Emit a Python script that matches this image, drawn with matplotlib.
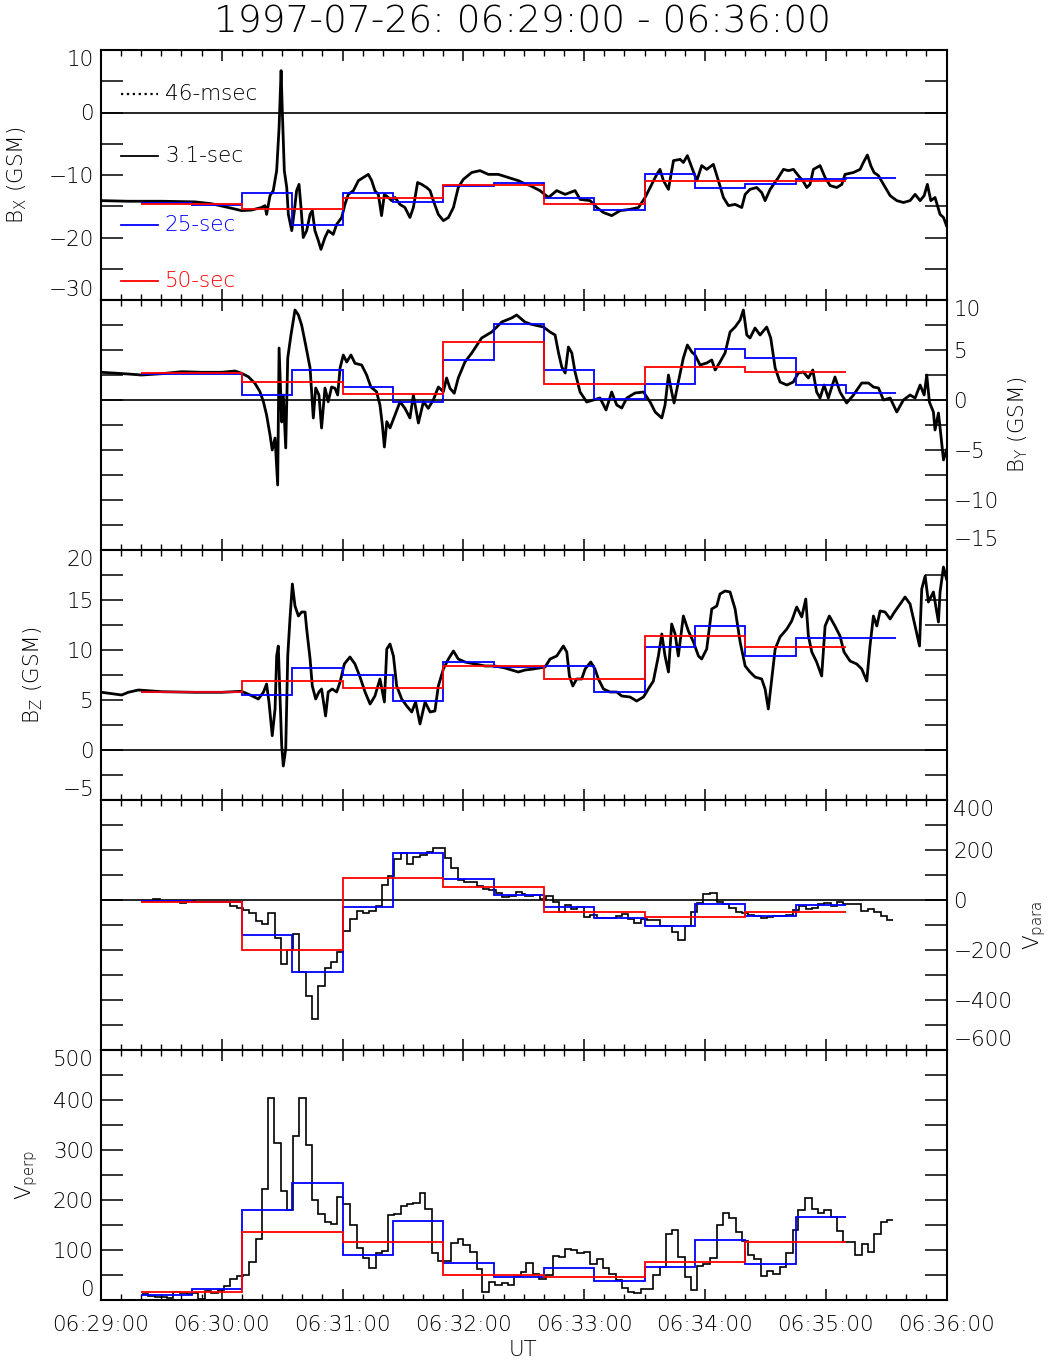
import matplotlib
matplotlib.use('Agg')
import matplotlib.pyplot as plt
from matplotlib.ticker import MultipleLocator, FixedLocator

plt.rcParams['font.family'] = ['DejaVu Sans']
plt.rcParams['font.weight'] = 'light'
plt.rcParams['axes.labelweight'] = 'light'
plt.rcParams['mathtext.fontset'] = 'custom'
plt.rcParams['mathtext.rm'] = 'DejaVu Sans:light'
plt.rcParams['mathtext.it'] = 'DejaVu Sans:light'
plt.rcParams['mathtext.default'] = 'regular'
FS = 15.5

# ---------------- data (time in seconds after 06:29:00) ----------------
title = "1997-07-26: 06:29:00 - 06:36:00"
time_ticks = [0, 60, 120, 180, 240, 300, 360, 420]
time_labels = ["06:29:00", "06:30:00", "06:31:00", "06:32:00",
               "06:33:00", "06:34:00", "06:35:00", "06:36:00"]
legend_labels = ["46-msec", "3.1-sec", "25-sec", "50-sec"]

bx_time = [0.4, 13.6, 30.2, 46.7, 55, 63.3, 69.9, 74.9, 79.8, 81.5, 82.3, 84, 85.6, 87.3, 88.5,
           89.5, 90.1, 91.1, 92.3, 93.1, 94.8, 96.1, 97.2, 98.4, 99.4, 100.5, 102.2, 103.9, 105,
           106.3, 108, 109.3, 111.3, 112.9, 115.4, 117.1, 119.6, 121.2, 122.9, 125.4, 127.9, 130.3,
           132.8, 134.5, 136.1, 137.8, 139.4, 140.8, 142.8, 144.4, 146.1, 148.5, 151, 153.5, 155.2,
           157.3, 159.3, 161.8, 163.5, 165.1, 167.6, 170.1, 172.6, 175.1, 177.5, 180, 184.2, 188.3,
           192.4, 197.4, 202.4, 207.3, 210.6, 213.2, 218.1, 222.3, 226.4, 230.6, 235.5, 238, 243,
           246.3, 249.6, 253.7, 257.9, 262.8, 267, 270.3, 272.8, 276.1, 277.7, 279.4, 281.9, 284.4,
           287.7, 289.3, 291.3, 293.5, 296, 298.4, 300.9, 304.2, 306.7, 309.2, 311.7, 315, 318.3,
           320, 322.4, 325.7, 328.2, 329.9, 332.4, 336.5, 339, 341.5, 344, 346.4, 348.6, 350.6,
           352.2, 353.9, 357.2, 359.7, 362.2, 365.5, 368, 369.6, 373.8, 377.1, 378.7, 380.7, 382.4,
           384, 386.2, 388.7, 392, 395.3, 398.6, 401.9, 404.4, 406.9, 408.9, 410.5, 412.2, 414.3,
           416.8, 418.5, 420]
bx_val = [-14.1, -14.2, -14.2, -14.3, -14.6, -15.2, -15.7, -15.6, -15.2, -14.9, -16.3, -13.3, -12.5,
          -9.3, -2.4, 6.7, 0.3, -9.3, -12, -16.3, -18.9, -15.7, -12.5, -11.5, -15.2, -20, -18.9,
          -16.3, -15.7, -18.9, -20.5, -21.9, -20, -18.9, -19.5, -17.9, -16.8, -14.7, -13.1, -12.5,
          -10.9, -10.4, -9.9, -10.9, -12.5, -13.1, -16.5, -13.1, -13.6, -14.1, -13.6, -14.7, -15.2,
          -16.8, -15.2, -11.2, -11.5, -12, -12.5, -14.1, -16.3, -17.3, -16.8, -15.2, -12, -10.7,
          -9.6, -9.3, -9.9, -9.9, -10.4, -10.9, -11.4, -11.7, -12.5, -13.6, -12.5, -13.1, -12.5,
          -13.9, -14.1, -15.2, -16, -16.5, -15.7, -15.5, -15.2, -13.6, -12, -9.9, -9.1, -10.9,
          -12.3, -7.7, -7.5, -8, -6.9, -8.8, -10.9, -8.5, -9.1, -8.3, -10.9, -13.6, -14.9, -14.7,
          -15.2, -13.1, -12.3, -12, -12.8, -14.1, -12.3, -10.4, -9.1, -9.3, -9.1, -10.1, -10.9,
          -12, -11.5, -9.1, -8.5, -10.4, -11.7, -12, -11.5, -9.9, -9.6, -9.1, -8, -6.8, -8.5,
          -9.6, -10.1, -11.5, -13.3, -14.1, -14.4, -14.1, -13.1, -14.1, -13.3, -11.5, -14.1,
          -13.6, -16.3, -16.8, -18.1]

by_time = [0.4, 13.6, 20.2, 30.2, 40.1, 50.1, 60, 66.6, 69.9, 73.2, 76.5, 79, 80.7, 82.3, 84, 85.1,
           86.5, 87.8, 88.5, 89.8, 90.6, 91.8, 92.8, 94.4, 96.4, 98.1, 99.7, 101.7, 103.9, 105.5,
           106.7, 108.3, 109.6, 111.3, 112.9, 114.6, 116.3, 117.6, 118.8, 120.4, 122.1, 124.2,
           126.2, 129.5, 132, 134.1, 136.9, 138.6, 139.8, 140.8, 142, 143.6, 146.1, 148.6, 151,
           153.5, 155.2, 157.7, 160.2, 162.6, 165.1, 167.6, 170.1, 171.7, 173.4, 175.5, 177.5,
           180.8, 184.2, 189.1, 194.1, 199.1, 204, 206.5, 210.6, 213.2, 219.8, 223.1, 225.6,
           227.2, 228.9, 230.6, 232.2, 233.9, 235.5, 238, 241.3, 244.6, 247.9, 250.9, 253.7,
           256.2, 258.7, 261.2, 265.3, 269.5, 272.8, 275.3, 278.6, 280.2, 281.9, 283.5, 284.7,
           286.8, 289.3, 291.3, 293.5, 295.1, 297.6, 300.9, 303.4, 305.1, 307.5, 310, 312.5, 315,
           317.5, 319.1, 320.8, 322.4, 324.9, 327.4, 330.7, 332.7, 334.9, 337.3, 340.7, 343.9,
           346.4, 348.9, 351.4, 353.6, 355.5, 357.2, 359.2, 361.3, 364.6, 367.1, 370.4, 373.8,
           377.9, 381.2, 383.7, 386.2, 388.7, 392, 395.3, 398.6, 401.9, 404.4, 406.9, 408.9,
           410.2, 411.5, 413.5, 414.3, 416, 417.2, 418.5, 420]
by_val = [2.77, 2.6, 2.5, 2.63, 2.83, 2.77, 2.77, 2.9, 2.67, 2.33, 1.67, 0.83, -0.17, -1.5, -3.5, -5,
          -3.8, -8.5, 5.2, -2.2, 0.5, -4.8, 4.2, 6.5, 9, 8.5, 7.5, 5.5, 3.2, -1.8, 1.2, 0.5, -2.8,
          1.2, -0.17, 1.3, 1.17, 0.5, 3.2, 4.5, 3.8, 4.5, 3.67, 3.5, 2.5, 1.3, 0.83, -0.5, -2.5,
          -4.7, -2.17, -2.8, -1.5, -0.17, -0.83, -1.8, 0.5, -2.3, -0.17, -0.83, 0, 1.3, 0.83, 2.2,
          1.17, 0.67, 2.2, 3.8, 4.7, 6.2, 6.8, 7.8, 8.2, 8.5, 7.8, 7.6, 7.3, 6.8, 6.5, 4.8, 3.3,
          2.7, 5.3, 4.7, 2.8, 0.8, -0.2, 0, 0.2, -1, 0.8, -0.5, -0.8, 0.2, 0.7, 0.8, -0.2, -1.2,
          -1.8, -0.5, 2.5, 0.8, -0.3, 1.8, 4.2, 5.5, 4.8, 4.5, 3.5, 3.7, 4, 3, 3.8, 4.7, 6.8,
          7.3, 8, 9, 6.5, 6.2, 7.2, 6.5, 7.3, 6.2, 3.2, 1.8, 1.5, 1.8, 2.7, 2.8, 2.2, 3, 0.8,
          0.2, 1.5, 0.2, 2.3, 0.8, -0.3, 0.5, 1.7, 1.7, 1.3, 1.2, 0, 0.2, -1.2, 0, 0.5, 0.2,
          1.5, 0.5, 2.5, -0.2, -1.2, -3, -1.3, -3.5, -6, -5]

bz_time = [0.4, 10.3, 13.6, 18.6, 30.2, 46.7, 60, 69.9, 74.9, 78.2, 80.7, 82.3, 83.5, 85.1, 86.5,
           87.3, 88.1, 89.8, 90.6, 91.8, 92.8, 93.9, 95.1, 96.4, 98.1, 99.7, 101.4, 102.2, 103.9,
           105, 106.7, 108.3, 109.6, 111.6, 112.9, 114.9, 117.1, 118.8, 120.9, 123.7, 126.2,
           128.7, 131.2, 133.7, 136.1, 138.6, 140.8, 142, 143.6, 145.3, 146.9, 149.4, 151.9,
           154.4, 156.3, 158.5, 161, 163.5, 165.9, 167.6, 170.1, 172.6, 175.1, 177.5, 180.8,
           185.8, 190.8, 195.7, 200.7, 207.3, 210.8, 214.8, 220.6, 223.1, 226.4, 229.7, 231.4,
           232.7, 234.4, 236.3, 238.8, 240.5, 243.3, 245.4, 247.1, 249.6, 252.9, 256.2, 258.7,
           262.8, 266.1, 269.5, 271.9, 274.4, 276.9, 278.6, 280.2, 281.9, 283.5, 285.2, 286.8,
           289.3, 291.8, 294.3, 296.8, 298.4, 300.9, 303.4, 305.9, 307.5, 310, 312.5, 315, 317.5,
           320, 322.4, 324.9, 328.2, 329.9, 331.5, 333.2, 334.9, 337.3, 340.7, 343.1, 345.6,
           348.1, 350.1, 351.4, 353.1, 355.5, 358, 359.7, 361.8, 364.6, 367.1, 369.1, 372.1,
           375.4, 377.9, 380.4, 382, 383.7, 385.4, 387, 389.5, 392, 394.5, 397, 399.4, 401.9,
           404.4, 406.6, 407.7, 409.4, 411, 413.5, 416, 416.8, 418.5, 420]
bz_val = [5.77, 5.5, 5.77, 6.0, 5.83, 5.77, 5.77, 5.87, 5.43, 5.1, 5.77, 6.6, 4.77, 1.43, 4.1, 9.4,
          10.4, 0.43, -1.6, 0.1, 9.4, 13.1, 16.6, 14.4, 13.4, 13.8, 13.8, 12.1, 9.1, 6.4, 5.1,
          5.8, 6.1, 3.4, 5.8, 6.1, 5.8, 6.8, 8.6, 9.3, 8.6, 7.3, 5.8, 4.6, 5.4, 7.1, 4.8, 10.1,
          10.6, 9.4, 6.4, 5.1, 4.4, 3.8, 4.8, 2.6, 4.8, 3.8, 3.9, 6.4, 8.1, 9.1, 9.9, 9.1, 8.8,
          8.6, 8.4, 8.4, 8.2, 7.8, 8.0, 8.1, 8.3, 9.1, 9.4, 10.4, 9.8, 7.4, 6.4, 7.1, 7.1, 8.1,
          8.8, 8.1, 7.1, 6.1, 5.8, 5.8, 5.4, 5.3, 4.9, 5.3, 6.1, 6.9, 9.4, 11.6, 9.4, 7.8, 12.6,
          11.6, 9.4, 13.4, 11.9, 10.8, 9.4, 9.1, 10.1, 14.1, 14.4, 15.6, 15.9, 15.8, 14.1, 10.8,
          8.4, 7.8, 7.3, 7.1, 6.1, 4.1, 7.1, 10.1, 11.3, 12.1, 12.9, 14.3, 13.3, 15.1, 11.4, 9.8,
          8.8, 7.4, 12.4, 13.4, 12.4, 11.4, 9.8, 8.9, 8.6, 8.1, 6.9, 10.4, 13.4, 12.4, 13.9,
          13.8, 13.1, 13.9, 14.6, 15.3, 14.6, 12.4, 10.4, 16.1, 17.4, 14.8, 15.8, 12.8, 15.8,
          18.3, 17.1]

# 3.1-sec velocity steps: start times, values, end time of last step
vpara_start = [20.3, 26.0, 29.4, 39.3, 42.1, 46.7, 64.1, 67.4, 70.8, 73.6,
               76.9, 79.9, 83.2, 86.5, 89.3, 92.6, 95.6, 98.6, 101.7, 105.0,
               108.0, 111.3, 114.3, 117.4, 120.4, 123.7, 127.0, 130.0, 133.3, 136.6,
               139.4, 142.4, 145.6, 148.9, 151.9, 155.2, 158.5, 161.8, 164.8, 170.9,
               173.9, 177.2, 180.5, 183.7, 186.6, 189.9, 192.9, 196.2, 199.4, 202.7,
               206.0, 209.0, 210.7, 214.8, 218.1, 221.1, 224.4, 227.6, 230.6, 233.5,
               236.7, 240.0, 243.0, 246.3, 249.3, 252.6, 255.9, 258.7, 261.7, 265.0,
               268.1, 271.4, 277.7, 283.5, 286.8, 290.2, 293.1, 296.3, 299.3, 302.6,
               305.9, 308.9, 312.0, 315.3, 318.6, 321.6, 324.6, 327.7, 331.0, 334.0,
               337.3, 340.3, 343.6, 346.9, 350.1, 353.1, 356.0, 359.4, 362.5, 365.5,
               368.8, 371.8, 377.6, 380.9, 384.0, 387.3, 390.3]
vpara_val = [-4, 3, -4, -13, -4, -7, -23, -31, -40, -53,
             -85, -97, -53, -152, -256, -199, -137, -289, -385, -476,
             -343, -271, -249, -209, -123, -76, -44, -52, -43, -25,
             60, 97, 164, 187, 145, 171, 180, 193, 207, 168,
             127, 79, 73, 71, 57, 44, 40, 27, 11, 15,
             31, 25, 17, 20, 3, 15, -7, -47, -20, -36,
             -29, -68, -59, -71, -72, -73, -64, -57, -77, -91,
             -76, -81, -105, -129, -159, -105, -48, -12, 24, 27,
             -9, -17, -33, -47, -52, -60, -63, -71, -67, -65,
             -63, -60, -41, -25, -36, -33, -15, -13, -23, -9,
             -17, -16, -45, -36, -49, -65, -79]
vpara_end = 393.3

vperp_start = [20.3, 23.6, 26.9, 32.7, 36.0, 39.3, 42.6, 45.4, 48.4, 51.7,
               54.7, 58.0, 61.3, 64.1, 67.4, 70.8, 73.6, 76.9, 79.9, 82.8,
               86.1, 89.3, 92.6, 95.6, 98.6, 101.7, 105.0, 108.0, 111.3, 114.3,
               117.4, 120.4, 123.7, 127.0, 130.0, 133.3, 136.6, 139.4, 142.4, 145.6,
               148.9, 151.9, 155.2, 158.5, 161.0, 164.3, 167.6, 173.9, 177.2, 180.0,
               183.3, 186.6, 189.4, 192.8, 195.7, 199.1, 202.4, 205.3, 208.7, 211.2,
               214.5, 217.8, 221.1, 224.4, 227.6, 230.6, 233.5, 236.7, 240.0, 243.0,
               246.3, 249.3, 252.6, 255.9, 258.7, 261.7, 265.0, 268.1, 274.4, 277.7,
               280.6, 283.5, 286.8, 290.2, 293.1, 296.3, 299.3, 302.6, 305.9, 308.9,
               312.0, 315.3, 318.6, 321.6, 324.6, 327.7, 331.0, 334.0, 337.3, 340.3,
               343.6, 346.4, 349.8, 353.1, 356.0, 359.4, 362.5, 365.5, 368.8, 374.6,
               377.9, 380.9, 384.0, 387.3, 390.3]
vperp_val = [12, 8, 7, 5, 17, 15, 12, 14, 3, 19,
             15, 20, 28, 42, 48, 50, 77, 122, 223, 404,
             314, 218, 180, 328, 404, 311, 200, 172, 156, 152,
             207, 192, 150, 105, 85, 65, 95, 98, 170, 172,
             188, 192, 195, 214, 183, 95, 78, 115, 123, 110,
             97, 63, 16, 37, 30, 34, 31, 48, 56, 74,
             52, 43, 50, 88, 87, 103, 100, 94, 97, 72,
             83, 65, 52, 40, 25, 16, 15, 22, 51, 66,
             132, 140, 87, 47, 20, 68, 72, 84, 150, 175,
             165, 136, 118, 90, 83, 48, 58, 53, 66, 94,
             140, 180, 204, 183, 174, 180, 167, 138, 116, 90,
             112, 96, 133, 157, 160]
vperp_end = 393.3

# 25-sec and 50-sec averages
edges25_b = [20, 45, 70, 95, 120, 145, 170, 195, 220, 245, 270, 295, 320, 345, 370, 395]
edges25_v = [20, 45, 70, 95, 120, 145, 170, 195, 220, 245, 270, 295, 320, 345, 370]
edges50 = [20, 70, 120, 170, 220, 270, 320, 370]

bx25 = [-14.5, -14.8, -12.8, -18.0, -12.8, -14.3, -11.7, -11.3, -13.6, -15.6, -9.8, -12.0, -11.4, -10.6, -10.4]
bx50 = [-14.7, -15.4, -13.6, -11.6, -14.6, -10.9, -10.9]
by25 = [2.6, 2.6, 0.5, 3.0, 1.3, -0.23, 4.0, 7.6, 3.0, 0.07, 1.6, 5.1, 4.2, 1.5, 0.67]
by50 = [2.67, 1.77, 0.57, 5.8, 1.57, 3.33, 2.83]
bz25 = [5.77, 5.77, 5.53, 8.2, 7.5, 4.87, 8.77, 8.3, 8.43, 5.83, 10.3, 12.43, 9.43, 11.2, 11.2]
bz50 = [5.83, 6.87, 6.17, 8.43, 7.1, 11.4, 10.3]
vpara25 = [-5, -9, -140, -287, -27, 187, 84, 21, -27, -73, -103, -16, -63, -20]
vpara50 = [-7, -200, 88, 51, -48, -67, -48]
vperp25 = [10, 23, 180, 235, 90, 158, 74, 46, 64, 38, 67, 120, 72, 167]
vperp50 = [16, 137, 117, 50, 46, 76, 117]

ylims = [(-30, 10), (-15, 10), (-5, 20), (-600, 400), (0, 500)]
ymajor = [[-30, -20, -10, 0, 10], [-15, -10, -5, 0, 5, 10], [-5, 0, 5, 10, 15, 20],
          [-600, -400, -200, 0, 200, 400], [0, 100, 200, 300, 400, 500]]
yminor = [5, 2.5, 2.5, 100, 50]
ylabels = [r'B$_\mathrm{X}$ (GSM)', r'B$_\mathrm{Y}$ (GSM)', r'B$_\mathrm{Z}$ (GSM)',
           r'V$_\mathrm{para}$', r'V$_\mathrm{perp}$']
label_right = [False, True, False, True, False]

# ---------------- figure ----------------
W_PX, H_PX = 1055, 1361
fig = plt.figure(figsize=(W_PX / 100, H_PX / 100), dpi=100)
left_px, right_px = 100.9, 946.5
tops = [50, 300, 550, 800, 1050]
ph = 250
axes = []
for top in tops:
    ax = fig.add_axes([left_px / W_PX, 1 - (top + ph) / H_PX,
                       (right_px - left_px) / W_PX, ph / H_PX])
    axes.append(ax)

BLUE = '#0000ff'
RED = '#ff0000'

for i, ax in enumerate(axes):
    ax.set_xlim(0, 420)
    ax.set_ylim(*ylims[i])
    ax.xaxis.set_major_locator(FixedLocator(time_ticks))
    ax.xaxis.set_minor_locator(MultipleLocator(10))
    ax.yaxis.set_minor_locator(MultipleLocator(yminor[i]))
    ax.set_yticks(ymajor[i])
    ax.tick_params(axis='x', which='major', direction='in', length=8, width=1.1,
                   top=True, bottom=True, labelsize=FS, pad=11)
    ax.tick_params(axis='x', which='minor', direction='in', length=4, width=1.0,
                   top=True, bottom=True)
    ax.tick_params(axis='y', which='both', direction='in', length=16, width=1.1,
                   left=True, right=True, labelsize=FS, pad=5)
    if label_right[i]:
        ax.tick_params(axis='y', labelleft=False, labelright=True)
    else:
        ax.tick_params(axis='y', labelleft=True, labelright=False)
    if i < 4:
        ax.tick_params(axis='x', labelbottom=False)
    else:
        ax.set_xticklabels(time_labels)
    for sp in ax.spines.values():
        sp.set_linewidth(1.5)
    ticks = ax.yaxis.get_major_ticks()
    ticks[0].label1.set_va('bottom')
    ticks[0].label2.set_va('bottom')
    ticks[-1].label1.set_va('top')
    ticks[-1].label2.set_va('top')
    if i < 4:
        ax.axhline(0, color='black', lw=1.2, zorder=1)

# B panels
b_time = [bx_time, by_time, bz_time]
b_val = [bx_val, by_val, bz_val]
b25 = [bx25, by25, bz25]
b50 = [bx50, by50, bz50]
for i in range(3):
    ax = axes[i]
    ax.plot(b_time[i], b_val[i], color='black', lw=2.0, zorder=2)
    ax.stairs(b25[i], edges25_b, color=BLUE, lw=1.3, baseline=None, zorder=3)
    ax.stairs(b50[i], edges50, color=RED, lw=1.3, baseline=None, zorder=4)

# V panels
v_start = [vpara_start, vperp_start]
v_end = [vpara_end, vperp_end]
v_val = [vpara_val, vperp_val]
v25 = [vpara25, vperp25]
v50 = [vpara50, vperp50]
for j in range(2):
    ax = axes[3 + j]
    ax.stairs(v_val[j], v_start[j] + [v_end[j]], color='black', lw=1.2, baseline=None, zorder=2)
    ax.stairs(v25[j], edges25_v, color=BLUE, lw=1.3, baseline=None, zorder=3)
    ax.stairs(v50[j], edges50, color=RED, lw=1.3, baseline=None, zorder=4)

# y labels
label_x = [-0.085, 1.071, -0.066, 1.088, -0.072]
for i, ax in enumerate(axes):
    if label_right[i]:
        ax.yaxis.set_label_position('right')
        ax.set_ylabel(ylabels[i], fontsize=FS, rotation=90, fontweight='light')
    else:
        ax.set_ylabel(ylabels[i], fontsize=FS, fontweight='light')
    ax.yaxis.set_label_coords(label_x[i], 0.5)

# legend in first panel
ax0 = axes[0]
leg_y = [0.824, 0.576, 0.30, 0.076]
leg_style = [('black', ':'), ('black', '-'), (BLUE, '-'), (RED, '-')]
for lab, yy, (col, ls) in zip(legend_labels, leg_y, leg_style):
    ax0.plot([0.024, 0.068], [yy, yy], transform=ax0.transAxes, color=col,
             ls=ls, lw=1.3 if ls == '-' else 1.6)
    ax0.text(0.0758, yy, lab, transform=ax0.transAxes, color=col, fontsize=FS,
             ha='left', va='center')

fig.text(522.5 / W_PX, 1 - 22 / H_PX, title, ha='center', va='center', fontsize=27)
fig.text(523 / W_PX, 1 - 1350 / H_PX, 'UT', ha='center', va='center', fontsize=FS)

fig.savefig('out.png', dpi=100)
